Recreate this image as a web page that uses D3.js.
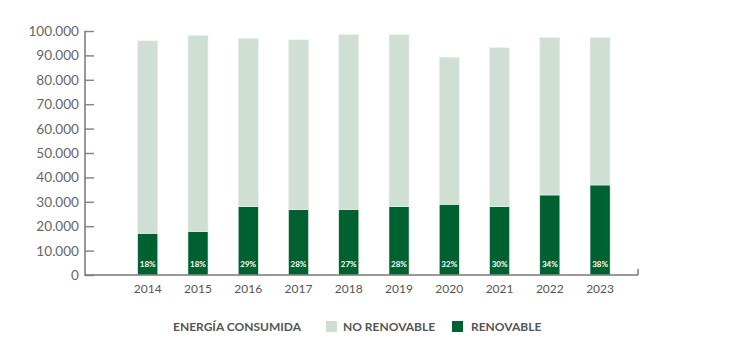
<!DOCTYPE html>
<html><head><meta charset="utf-8">
<script src="https://cdn.jsdelivr.net/npm/d3@7"></script>
<style>
html,body{margin:0;padding:0;background:#fff;}
svg{display:block;font-family:Lato, "Open Sans", sans-serif;}
</style></head>
<body><svg id="c" width="751" height="356"></svg>
<script>
const years = ["2014","2015","2016","2017","2018","2019","2020","2021","2022","2023"];
const renovable = [17100, 17900, 28000, 26900, 26900, 28000, 29000, 28000, 32800, 36900];
const noRenovable = [78900, 80300, 69000, 69500, 71600, 70500, 60300, 65200, 64500, 60400];
const pctLabels = ["18%","18%","29%","28%","27%","28%","32%","30%","34%","38%"];
const yTicks = [0,10000,20000,30000,40000,50000,60000,70000,80000,90000,100000];
const legendTitle = "ENERGÍA CONSUMIDA";
const seriesNames = ["NO RENOVABLE","RENOVABLE"];
const colors = {light:"#cfdfd4", dark:"#006130"};

const svg = d3.select("#c");
const axisX = 85, axisRight = 638;
const y = d3.scaleLinear().domain([0,100000]).range([275,31]);
const x = d3.scaleBand().domain(years).range([122.6,625.2]).paddingInner(0.6).paddingOuter(0.3);

const data = years.map((yr,i)=>({year:yr, ren:renovable[i], non:noRenovable[i], pct:pctLabels[i]}));
const stack = d3.stack().keys(["ren","non"])(data);
const fill = {ren:colors.dark, non:colors.light};

svg.append("g").selectAll("g").data(stack).join("g")
  .attr("fill", d=>fill[d.key])
  .selectAll("rect").data(d=>d).join("rect")
  .attr("x", d=>x(d.data.year))
  .attr("width", x.bandwidth())
  .attr("y", d=>y(d[1]))
  .attr("height", d=>y(d[0])-y(d[1]))
  .attr("stroke","#eef4ef").attr("stroke-width",0.6);

// percentage labels
svg.append("g").selectAll("text").data(data).join("text")
  .attr("x", d=>x(d.year)+x.bandwidth()/2)
  .attr("y", 267)
  .attr("text-anchor","middle")
  .attr("fill","#fff")
  .attr("font-size","8px")
  .attr("font-weight","bold")
  .text(d=>d.pct);

// y axis
const fmt = v => v===0 ? "0" : d3.format(",")(v).replace(/,/g,".");
const ya = svg.append("g").attr("transform",`translate(${axisX},0)`)
  .call(d3.axisRight(y).tickValues(yTicks).tickSize(9).tickFormat(""));
ya.select(".domain").remove();
ya.selectAll("line").attr("stroke","#888").attr("stroke-width",1.5);
svg.append("line").attr("x1",axisX).attr("x2",axisX).attr("y1",y(100000)).attr("y2",y(0)+0.75)
  .attr("stroke","#777").attr("stroke-width",1.5);
svg.append("g").selectAll("text").data(yTicks).join("text")
  .attr("x", 79).attr("y", d=>y(d)+5)
  .attr("text-anchor","end").attr("fill","#666").attr("font-size","13.6px")
  .text(fmt);

// x axis
svg.append("line").attr("x1",axisX).attr("x2",axisRight).attr("y1",y(0)).attr("y2",y(0))
  .attr("stroke","#777").attr("stroke-width",1.5);
svg.append("line").attr("x1",axisRight).attr("x2",axisRight).attr("y1",y(0)).attr("y2",y(0)-6)
  .attr("stroke","#777").attr("stroke-width",1.5);
svg.append("g").selectAll("text").data(years).join("text")
  .attr("x", d=>x(d)+x.bandwidth()/2).attr("y", 293)
  .attr("text-anchor","middle").attr("fill","#555").attr("font-size","12px")
  .text(d=>d);

// legend
const lg = svg.append("g").attr("font-weight","bold").attr("font-size","12px").attr("fill","#555");
lg.append("text").attr("x",173).attr("y",331).text(legendTitle);
lg.append("rect").attr("x",326).attr("y",321).attr("width",11).attr("height",11).attr("fill",colors.light);
lg.append("text").attr("x",343).attr("y",331).text(seriesNames[0]);
lg.append("rect").attr("x",452).attr("y",321).attr("width",11).attr("height",11).attr("fill",colors.dark);
lg.append("text").attr("x",471).attr("y",331).text(seriesNames[1]);
</script></body></html>
